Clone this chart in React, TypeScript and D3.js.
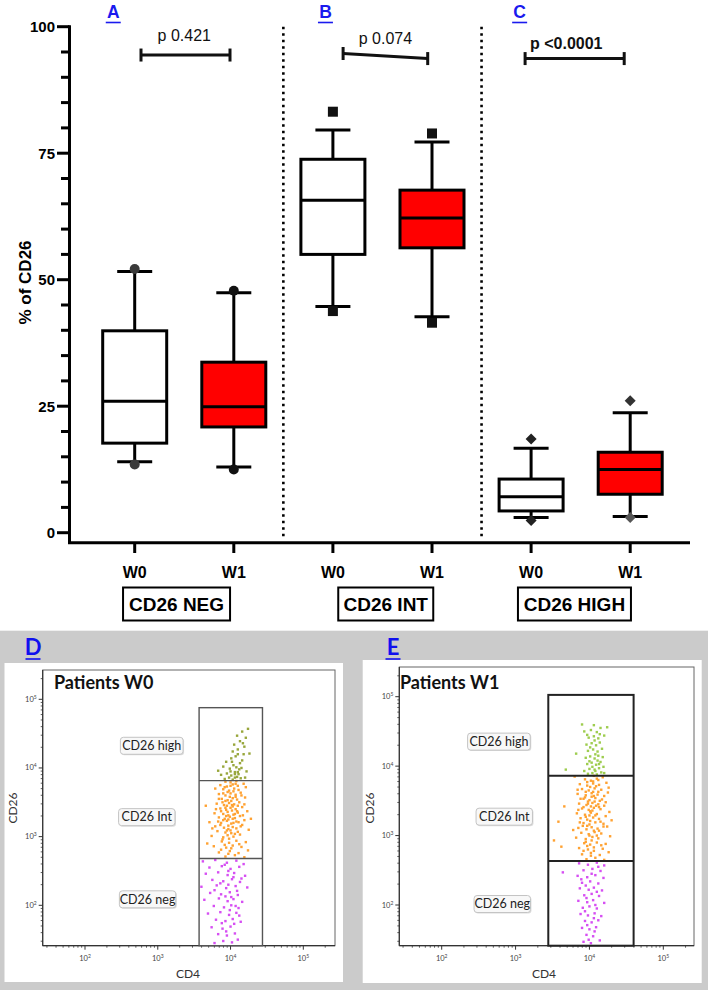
import React from "react";
import * as d3 from "d3";

// ---------- Box plot data (% of CD26) ----------
const groups = ["CD26 NEG", "CD26 INT", "CD26 HIGH"];
const panelLetters = ["A", "B", "C"];
const weeks = ["W0", "W1"];
const categories = ["NEG-W0", "NEG-W1", "INT-W0", "INT-W1", "HIGH-W0", "HIGH-W1"];
const whiskerLow = [14.0, 13.0, 44.7, 42.7, 3.0, 3.2];
const q1 = [17.7, 20.9, 55.0, 56.3, 4.3, 7.6];
const median = [26.0, 24.9, 65.7, 62.2, 7.1, 12.5];
const q3 = [39.9, 33.7, 73.8, 67.7, 10.6, 15.9];
const whiskerHigh = [51.6, 47.4, 79.6, 77.2, 16.7, 23.7];
const pointLow = [13.5, 12.5, 43.8, 41.5, 2.4, 3.0];
const pointHigh = [52.1, 47.8, 83.2, 78.9, 18.5, 26.1];
const markerShapes = ["circle", "circle", "square", "square", "diamond", "diamond"];
const pLabels = ["p 0.421", "p 0.074", "p <0.0001"];
const pBold = [false, false, true];
const bracketLeftY = [94.4, 94.7, 93.7];
const bracketRightY = [94.4, 93.7, 93.7];
const pTextY = [97.2, 96.6, 95.5];
const yMajorTicks = [0, 25, 50, 75, 100];

// ---------- Flow cytometry data (log10 CD4, log10 CD26) ----------
const flowTitles = ["Patients W0", "Patients W1"];
const flowLetters = ["D", "E"];
const gateNames = ["CD26 high", "CD26 Int", "CD26 neg"];
const decadeTicks = [2, 3, 4, 5];

const w0High = [[3.92,3.84],[3.98,3.86],[4.03,3.83],[4.09,3.87],[4.14,3.85],[4.2,3.86],[3.87,3.9],[3.95,3.92],[4.01,3.89],[4.06,3.94],[4.11,3.91],[4.22,3.95],[3.99,3.99],[4.04,4.04],[4.08,4.01],[4.13,4.07],[3.94,4.09],[4.01,4.14],[4.07,4.17],[4.16,4.11],[4.03,4.24],[4.1,4.27],[4.19,4.31],[4.05,4.34],[4.13,4.39],[4.21,4.44],[4.09,4.47],[4.16,4.53],[4.24,4.57],[3.83,3.96],[4.26,4.21],[3.9,4.02],[4.0,3.95],[4.12,3.98],[4.18,4.2],[4.06,3.86],[4.1,3.94],[4.15,4.0],[4.02,4.09],[4.1,4.2],[4.17,4.36],[4.06,3.91]];
const w0Int = [[3.93,2.71],[4.06,2.73],[4.19,2.7],[3.84,2.77],[3.99,2.79],[4.11,2.76],[4.24,2.8],[3.77,2.86],[3.94,2.84],[4.03,2.87],[4.15,2.85],[3.88,2.93],[3.98,2.91],[4.08,2.94],[4.21,2.92],[3.68,2.9],[3.74,3.01],[3.9,2.99],[3.96,3.02],[4.04,3.0],[4.13,3.03],[3.82,3.08],[3.93,3.06],[4.0,3.09],[4.1,3.07],[4.25,3.1],[3.79,3.15],[3.91,3.13],[3.97,3.16],[4.03,3.14],[4.16,3.17],[3.71,3.21],[3.87,3.2],[3.95,3.23],[4.01,3.19],[4.08,3.22],[4.19,3.24],[3.84,3.28],[3.92,3.26],[3.99,3.29],[4.06,3.27],[4.13,3.3],[3.78,3.34],[3.9,3.33],[3.96,3.36],[4.04,3.32],[4.1,3.35],[4.23,3.37],[3.86,3.41],[3.94,3.39],[4.0,3.42],[4.07,3.4],[4.16,3.43],[3.81,3.48],[3.91,3.46],[3.98,3.49],[4.05,3.47],[4.12,3.5],[3.88,3.55],[3.96,3.53],[4.03,3.56],[4.09,3.54],[4.2,3.57],[3.84,3.62],[3.93,3.6],[4.0,3.63],[4.07,3.61],[4.14,3.64],[3.9,3.69],[3.98,3.67],[4.05,3.7],[4.11,3.68],[3.86,3.75],[3.95,3.73],[4.03,3.76],[4.1,3.74],[4.18,3.77],[3.93,3.8],[4.0,3.79],[4.08,3.81],[3.66,3.45],[3.97,3.25],[4.02,3.38],[3.95,3.45],[4.01,3.05],[3.99,3.58],[4.04,3.2],[3.93,3.52],[4.06,3.33],[3.97,3.11],[4.02,3.46],[3.94,3.3],[3.89,2.96],[3.95,3.09],[4.08,3.12],[3.86,3.17],[4.11,3.21],[3.9,3.24],[4.03,3.26],[3.97,3.31],[4.09,3.37],[3.87,3.37],[3.93,3.42],[4.03,3.44],[4.1,3.45],[3.89,3.5],[4.01,3.52],[4.07,3.58],[3.9,3.63],[3.96,3.65],[4.04,3.66],[3.92,3.72],[4.0,3.74],[4.07,3.77],[3.98,2.97],[4.06,3.04],[3.92,2.88],[4.01,2.83],[3.87,2.81],[4.12,2.89],[3.97,2.75],[4.14,3.15],[3.83,3.22],[4.17,3.31],[3.8,3.4],[4.19,3.47],[3.84,3.55],[4.15,3.6],[3.79,3.7],[4.21,3.72],[3.75,3.12],[4.28,3.26]];
const w0Neg = [[3.62,2.64],[3.79,2.66],[3.95,2.62],[4.08,2.65],[4.18,2.6],[3.71,2.55],[3.88,2.57],[4.0,2.53],[4.12,2.56],[3.66,2.46],[3.83,2.48],[3.96,2.44],[4.05,2.47],[4.2,2.43],[3.75,2.37],[3.9,2.35],[4.02,2.38],[4.13,2.34],[3.6,2.27],[3.81,2.29],[3.94,2.25],[4.07,2.28],[4.23,2.26],[3.72,2.18],[3.87,2.16],[3.99,2.19],[4.1,2.15],[3.64,2.08],[3.84,2.1],[3.96,2.06],[4.04,2.09],[4.16,2.05],[3.77,1.99],[3.91,1.97],[4.01,2.0],[4.11,1.96],[3.69,1.88],[3.86,1.9],[3.98,1.86],[4.08,1.89],[3.8,1.79],[3.93,1.77],[4.03,1.8],[4.14,1.76],[3.74,1.68],[3.89,1.66],[4.0,1.69],[3.83,1.58],[3.95,1.56],[4.06,1.59],[3.9,1.48],[4.02,1.46],[3.78,1.45],[4.1,1.5],[3.97,2.3],[4.01,2.12],[3.92,2.59],[4.04,2.41],[3.86,2.32],[4.09,2.21],[3.93,2.13],[3.99,1.93],[4.05,1.73],[3.88,1.74],[3.97,2.5],[4.15,2.39],[3.78,2.22],[4.07,1.99],[3.94,1.62],[4.12,1.85]];
const w1High = [[3.98,3.89],[4.04,3.9],[4.1,3.88],[4.16,3.91],[4.2,3.9],[3.93,3.93],[4.0,3.96],[4.07,3.95],[4.13,3.97],[4.19,3.99],[3.68,3.95],[3.97,4.03],[4.03,4.05],[4.09,4.02],[4.15,4.06],[3.95,4.12],[4.01,4.14],[4.07,4.11],[4.12,4.15],[4.18,4.13],[3.82,4.18],[3.98,4.22],[4.05,4.24],[4.11,4.21],[4.17,4.25],[3.96,4.31],[4.03,4.33],[4.09,4.3],[4.14,4.34],[3.99,4.41],[4.06,4.43],[4.12,4.4],[4.2,4.44],[3.93,4.5],[4.02,4.52],[4.1,4.49],[4.15,4.55],[3.9,4.6],[4.06,4.59],[4.24,4.56],[4.04,3.99],[4.11,4.08],[4.08,3.93],[4.13,4.03],[4.0,4.07],[4.08,4.17],[4.01,4.27],[4.07,4.37],[4.14,4.46],[3.97,4.45]];
const w1Int = [[3.96,2.66],[4.08,2.68],[4.2,2.65],[3.9,2.73],[4.02,2.75],[4.14,2.72],[4.26,2.76],[3.86,2.82],[3.98,2.8],[4.06,2.83],[4.18,2.81],[3.62,2.84],[3.93,2.89],[4.01,2.87],[4.1,2.9],[4.22,2.88],[3.82,2.97],[3.95,2.95],[4.04,2.98],[4.12,2.96],[4.28,2.99],[3.52,2.93],[3.89,3.04],[3.99,3.02],[4.07,3.05],[4.16,3.03],[3.85,3.11],[3.96,3.09],[4.03,3.12],[4.11,3.1],[4.24,3.13],[3.92,3.18],[4.0,3.16],[4.08,3.19],[4.19,3.17],[3.58,3.2],[3.88,3.25],[3.97,3.23],[4.05,3.26],[4.13,3.24],[3.83,3.32],[3.94,3.3],[4.02,3.33],[4.1,3.31],[4.27,3.34],[3.9,3.39],[3.99,3.37],[4.06,3.4],[4.15,3.38],[3.66,3.42],[3.86,3.46],[3.96,3.44],[4.04,3.47],[4.12,3.45],[4.22,3.48],[3.92,3.53],[4.0,3.51],[4.08,3.54],[4.17,3.52],[3.84,3.6],[3.95,3.58],[4.03,3.61],[4.11,3.59],[4.25,3.62],[3.9,3.67],[3.99,3.65],[4.07,3.68],[4.16,3.66],[3.87,3.74],[3.97,3.72],[4.05,3.75],[4.13,3.73],[4.23,3.76],[3.94,3.81],[4.02,3.79],[4.1,3.82],[4.18,3.84],[3.8,3.85],[4.06,3.86],[4.01,3.21],[4.04,3.36],[3.98,3.49],[4.06,3.07],[4.03,3.56],[4.0,3.29],[4.09,3.43],[3.97,3.14],[4.05,3.63],[4.02,3.42],[3.95,2.91],[4.0,3.0],[4.13,3.07],[3.91,3.14],[4.15,3.2],[3.95,3.27],[4.08,3.29],[4.01,3.35],[4.13,3.41],[3.92,3.41],[3.98,3.46],[4.07,3.49],[4.14,3.5],[3.94,3.55],[4.06,3.57],[4.12,3.63],[3.95,3.63],[4.01,3.7],[4.09,3.71],[3.97,3.77],[4.05,3.78],[4.12,3.8],[4.03,2.93],[4.1,3.0],[3.97,2.85],[4.06,2.78],[3.92,2.78],[4.16,2.86],[4.02,2.71],[4.19,3.13],[3.87,3.19],[4.22,3.28],[3.85,3.37],[4.2,3.43],[3.88,3.53],[4.2,3.57],[3.84,3.66],[4.26,3.69],[3.78,3.08],[4.3,3.22]];
const w1Neg = [[3.86,2.6],[3.98,2.58],[4.1,2.61],[4.2,2.57],[3.92,2.5],[4.04,2.52],[4.15,2.49],[3.64,2.47],[3.84,2.42],[3.97,2.4],[4.08,2.43],[4.19,2.39],[3.9,2.32],[4.01,2.34],[4.12,2.31],[3.87,2.24],[3.99,2.22],[4.06,2.25],[4.17,2.21],[3.93,2.14],[4.03,2.16],[4.13,2.13],[3.85,2.06],[3.97,2.04],[4.05,2.07],[4.2,2.03],[3.91,1.96],[4.0,1.98],[4.1,1.95],[3.88,1.87],[3.98,1.85],[4.07,1.88],[4.16,1.84],[3.94,1.77],[4.03,1.75],[4.12,1.78],[3.9,1.67],[4.0,1.65],[4.09,1.68],[3.96,1.57],[4.05,1.55],[3.92,1.47],[4.02,1.45],[4.14,1.49],[4.03,2.45],[3.95,2.28],[4.1,2.19],[3.96,2.1],[4.08,2.0],[3.94,1.91],[4.06,1.81],[3.97,1.71],[4.07,1.62],[3.99,1.5],[4.12,2.55],[3.89,2.37]];

const flowPoints = [[w0High, w0Int, w0Neg], [w1High, w1Int, w1Neg]];
const gateCd4 = [[3.568, 4.439], [3.443, 4.598]];
const gateCd26 = [[4.878, 3.816, 2.681], [5.026, 3.863, 2.634]];
const labelCd4 = [[2.917, 2.849, 2.86], [2.775, 2.847, 2.82]];
const labelCd26 = [[4.323, 3.284, 2.087], [4.353, 3.272, 2.014]];

// ---------- layout ----------
const ARIAL = "'Liberation Sans', Arial, sans-serif";
const CAL = "Lato, 'Open Sans', sans-serif";

const flowLayout = [
  {
    panel: [4.5, 663, 343, 982], frameX: [42.7, 335], frameY: [945.7, 670],
    decX: [85, 303.3], decY: [905.3, 699.3], letterX: 33, titleX: 54,
    cd4X: 188, cd26X: 17, popColors: ["#8d9d26", "#ff981c", "#d23cf2"], gateStroke: "#555", gateWidth: 1.4,
  },
  {
    panel: [362.7, 660, 701.7, 983], frameX: [399.3, 694], frameY: [945.7, 667],
    decX: [441.7, 663.3], decY: [905, 696.7], letterX: 393, titleX: 400,
    cd4X: 544, cd26X: 374, popColors: ["#94c83c", "#ff981c", "#d23cf2"], gateStroke: "#222", gateWidth: 2,
  },
];

function Marker({ shape, cx, cy, fill }: { shape: string; cx: number; cy: number; fill: string }) {
  if (shape === "circle") return <circle cx={cx} cy={cy} r={5} fill={fill} />;
  if (shape === "square") return <rect x={cx - 5} y={cy - 5} width={10} height={10} fill={fill} />;
  return <path d={`M${cx},${cy - 5.5}L${cx + 5.5},${cy}L${cx},${cy + 5.5}L${cx - 5.5},${cy}Z`} fill={fill} />;
}

function BoxChart() {
  const x = d3.scalePoint<string>().domain(categories).range([134.7, 630.2]);
  const y = d3.scaleLinear().domain([0, 100]).range([532.7, 26.7]);
  const axisX = 69.5;
  const axisY = 542.7;
  const minorTicks = d3.range(0, 101, 5).filter((v) => !yMajorTicks.includes(v));
  const boxW = 64;
  const capW = 35;
  const markerColors = [["#3a3a3a", "#3a3a3a"], ["#111", "#111"], ["#111", "#111"], ["#111", "#111"], ["#222", "#222"], ["#555", "#333"]];
  const groupCenter = (g: number) => ((x(categories[2 * g]) as number) + (x(categories[2 * g + 1]) as number)) / 2;
  const letterOffsets = [-71, -57, -61];
  const pOffsets = [0, 3, -14.4];
  const bracketOffsets = [[6.3, -3.8], [10.2, -4.3], [-6, -6]];
  const labelOffsets = [-7.7, 3.3, -6.2];
  const labelWidths = [107, 95, 113];
  const separators = [0, 1].map((g) => ((x(categories[2 * g + 1]) as number) + (x(categories[2 * g + 2]) as number)) / 2);

  return (
    <g>
      <line x1={axisX} x2={axisX} y1={y(100) - 1.5} y2={axisY} stroke="#000" strokeWidth={3} />
      <line x1={axisX - 1.5} x2={690} y1={axisY} y2={axisY} stroke="#000" strokeWidth={3} />
      {yMajorTicks.map((t) => (
        <g key={t}>
          <line x1={57} x2={axisX} y1={y(t)} y2={y(t)} stroke="#000" strokeWidth={3} />
          <text x={55} y={y(t) + 5.5} textAnchor="end" fontFamily={ARIAL} fontWeight="bold" fontSize={15}>{t}</text>
        </g>
      ))}
      {minorTicks.map((t) => (
        <line key={t} x1={61} x2={axisX} y1={y(t)} y2={y(t)} stroke="#000" strokeWidth={3} />
      ))}
      <text transform={`translate(31,282.5) rotate(-90)`} textAnchor="middle" fontFamily={ARIAL} fontWeight="bold" fontSize={17}>% of CD26</text>
      {categories.map((c, i) => (
        <g key={c}>
          <line x1={x(c)} x2={x(c)} y1={axisY} y2={553} stroke="#000" strokeWidth={3} />
          <text x={x(c)} y={578} textAnchor="middle" fontFamily={ARIAL} fontWeight="bold" fontSize={16}>{weeks[i % 2]}</text>
        </g>
      ))}
      {separators.map((sx, i) => (
        <line key={i} x1={sx} x2={sx} y1={y(100)} y2={540} stroke="#000" strokeWidth={2.6} strokeDasharray="2.6 3.9" />
      ))}
      {groups.map((g, i) => {
        const cx = groupCenter(i) + labelOffsets[i];
        return (
          <g key={g}>
            <rect x={cx - labelWidths[i] / 2} y={587.5} width={labelWidths[i]} height={33} fill="#fff" stroke="#000" strokeWidth={2} />
            <text x={cx} y={610.5} textAnchor="middle" fontFamily={ARIAL} fontWeight="bold" fontSize={19}>{g}</text>
          </g>
        );
      })}
      {panelLetters.map((l, i) => {
        const cx = groupCenter(i) + letterOffsets[i];
        return (
          <g key={l}>
            <text x={cx} y={17.5} textAnchor="middle" fontFamily={ARIAL} fontWeight="bold" fontSize={17.5} fill="#1a1aee">{l}</text>
            <line x1={cx - 7.5} x2={cx + 7.5} y1={22.5} y2={22.5} stroke="#1a1aee" strokeWidth={1.6} />
          </g>
        );
      })}
      {pLabels.map((p, i) => {
        const xl = (x(categories[2 * i]) as number) + bracketOffsets[i][0];
        const xr = (x(categories[2 * i + 1]) as number) + bracketOffsets[i][1];
        const yl = y(bracketLeftY[i]);
        const yr = y(bracketRightY[i]);
        return (
          <g key={p}>
            <line x1={xl} x2={xr} y1={yl} y2={yr} stroke="#111" strokeWidth={3} />
            <line x1={xl} x2={xl} y1={yl - 6.5} y2={yl + 6.5} stroke="#111" strokeWidth={3} />
            <line x1={xr} x2={xr} y1={yr - 6.5} y2={yr + 6.5} stroke="#111" strokeWidth={3} />
            <text x={groupCenter(i) + pOffsets[i]} y={y(pTextY[i])} textAnchor="middle" fontFamily={ARIAL} fontSize={16} fontWeight={pBold[i] ? "bold" : "normal"} fill="#111">{p}</text>
          </g>
        );
      })}
      {categories.map((c, i) => {
        const cx = x(c) as number;
        const fill = i % 2 ? "#ff0000" : "#ffffff";
        return (
          <g key={c}>
            <line x1={cx} x2={cx} y1={y(whiskerHigh[i])} y2={y(q3[i])} stroke="#000" strokeWidth={3} />
            <line x1={cx} x2={cx} y1={y(q1[i])} y2={y(whiskerLow[i])} stroke="#000" strokeWidth={3} />
            <line x1={cx - capW / 2} x2={cx + capW / 2} y1={y(whiskerHigh[i])} y2={y(whiskerHigh[i])} stroke="#000" strokeWidth={3} />
            <line x1={cx - capW / 2} x2={cx + capW / 2} y1={y(whiskerLow[i])} y2={y(whiskerLow[i])} stroke="#000" strokeWidth={3} />
            <rect x={cx - boxW / 2} y={y(q3[i])} width={boxW} height={y(q1[i]) - y(q3[i])} fill={fill} stroke="#000" strokeWidth={3} />
            <line x1={cx - boxW / 2} x2={cx + boxW / 2} y1={y(median[i])} y2={y(median[i])} stroke="#000" strokeWidth={3} />
            <Marker shape={markerShapes[i]} cx={cx} cy={y(pointHigh[i])} fill={markerColors[i][1]} />
            <Marker shape={markerShapes[i]} cx={cx} cy={y(pointLow[i])} fill={markerColors[i][0]} />
          </g>
        );
      })}
    </g>
  );
}

function FlowPanel({ idx }: { idx: number }) {
  const L = flowLayout[idx];
  const sx = d3.scaleLinear().domain([2, 5]).range(L.decX);
  const sy = d3.scaleLinear().domain([2, 5]).range(L.decY);
  const [x0, x1] = L.frameX;
  const [yb, yt] = L.frameY;
  const xMin = sx.invert(x0), xMax = sx.invert(x1);
  const yMin = sy.invert(yb), yMax = sy.invert(yt);
  const minors = (lo: number, hi: number) => {
    const out: number[] = [];
    for (let k = 1; k <= 5; k++) for (let m = 2; m <= 9; m++) {
      const v = k + Math.log10(m);
      if (v > lo && v < hi) out.push(v);
    }
    return out;
  };
  const [gl, gr] = gateCd4[idx];
  const [gTop, gMid, gLow] = gateCd26[idx];
  const pts = flowPoints[idx];
  return (
    <g>
      <rect x={L.panel[0]} y={L.panel[1]} width={L.panel[2] - L.panel[0]} height={L.panel[3] - L.panel[1]} fill="#fff" />
      <text x={L.letterX} y={655} textAnchor="middle" fontFamily={CAL} fontWeight="bold" fontSize={22} fill="#1010ee">{flowLetters[idx]}</text>
      <line x1={L.letterX - 7.5} x2={L.letterX + 7.5} y1={659} y2={659} stroke="#1010ee" strokeWidth={1.6} />
      <rect x={x0} y={yt} width={x1 - x0} height={yb - yt} fill="none" stroke="#666" strokeWidth={1} />
      <line x1={x0} x2={x0} y1={yt} y2={yb} stroke="#333" strokeWidth={1.2} />
      <line x1={x0} x2={x1} y1={yb} y2={yb} stroke="#333" strokeWidth={1.2} />
      <text x={L.titleX} y={689} fontFamily={CAL} fontWeight="bold" fontSize={18} fill="#111">{flowTitles[idx]}</text>
      {decadeTicks.filter((d) => d > xMin && d < xMax).map((d) => (
        <g key={"x" + d}>
          <line x1={sx(d)} x2={sx(d)} y1={yb} y2={yb + 4} stroke="#333" />
          <text x={sx(d)} y={961} textAnchor="middle" fontFamily={CAL} fontSize={7.5} fill="#444">10<tspan dy={-3} fontSize={5}>{d}</tspan></text>
        </g>
      ))}
      {minors(xMin, xMax).map((v) => (
        <line key={"xm" + v} x1={sx(v)} x2={sx(v)} y1={yb} y2={yb + 2} stroke="#333" strokeWidth={0.8} />
      ))}
      {decadeTicks.filter((d) => d > yMin && d < yMax).map((d) => (
        <g key={"y" + d}>
          <line x1={x0 - 4} x2={x0} y1={sy(d)} y2={sy(d)} stroke="#333" />
          <text x={x0 - 6} y={sy(d) + 2.5} textAnchor="end" fontFamily={CAL} fontSize={7.5} fill="#444">10<tspan dy={-3} fontSize={5}>{d}</tspan></text>
        </g>
      ))}
      {minors(yMin, yMax).map((v) => (
        <line key={"ym" + v} x1={x0 - 2} x2={x0} y1={sy(v)} y2={sy(v)} stroke="#333" strokeWidth={0.8} />
      ))}
      <text x={L.cd4X} y={978} textAnchor="middle" fontFamily={CAL} fontSize={12} fill="#333">CD4</text>
      <text transform={`translate(${L.cd26X},808) rotate(-90)`} textAnchor="middle" fontFamily={CAL} fontSize={12} fill="#333">CD26</text>
      {pts.map((pop, p) => (
        <g key={p} fill={L.popColors[p]} opacity={0.9}>
          {pop.map((d, j) => (
            <rect key={j} x={sx(d[0]) - 1.2} y={sy(d[1]) - 1.2} width={2.4} height={2.4} />
          ))}
        </g>
      ))}
      <rect x={sx(gl)} y={sy(gTop)} width={sx(gr) - sx(gl)} height={yb - sy(gTop)} fill="none" stroke={L.gateStroke} strokeWidth={L.gateWidth} />
      <line x1={sx(gl)} x2={sx(gr)} y1={sy(gMid)} y2={sy(gMid)} stroke={L.gateStroke} strokeWidth={L.gateWidth} />
      <line x1={sx(gl)} x2={sx(gr)} y1={sy(gLow)} y2={sy(gLow)} stroke={L.gateStroke} strokeWidth={L.gateWidth} />
      {gateNames.map((n, k) => {
        const cx = sx(labelCd4[idx][k]);
        const cy = sy(labelCd26[idx][k]);
        const w = n.length * 6.3 + 6;
        return (
          <g key={n}>
            <rect x={cx - w / 2 + 1} y={cy - 8.5 + 1} width={w} height={17} rx={3} fill="#ddd" />
            <rect x={cx - w / 2} y={cy - 8.5} width={w} height={17} rx={3} fill="#f8f8f8" stroke="#c4c4c4" strokeWidth={1} />
            <text x={cx} y={cy + 4.3} textAnchor="middle" fontFamily={CAL} fontSize={12.5} fill="#222">{n}</text>
          </g>
        );
      })}
    </g>
  );
}

export default function App() {
  return (
    <svg width={708} height={990} style={{ position: "absolute", left: 0, top: 0, background: "#fff" }}>
      <rect x={0} y={0} width={708} height={990} fill="#fff" />
      <BoxChart />
      <rect x={0} y={630.7} width={708} height={990 - 630.7} fill="#cbcbcb" />
      <FlowPanel idx={0} />
      <FlowPanel idx={1} />
    </svg>
  );
}
